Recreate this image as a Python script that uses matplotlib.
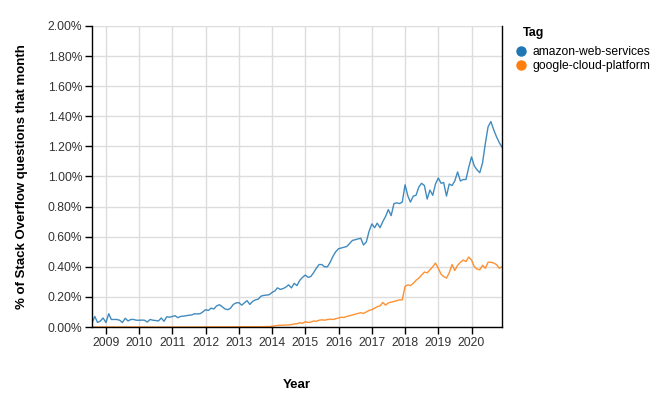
import pandas as pd
import matplotlib
matplotlib.use("Agg")
import matplotlib.pyplot as plt
import matplotlib.dates as mdates
from matplotlib.lines import Line2D
from matplotlib.ticker import FuncFormatter, MultipleLocator

plt.rcParams['font.family'] = ['Liberation Sans', 'DejaVu Sans']

# monthly share of questions, in percent, Aug 2008 .. Dec 2020
months = pd.date_range("2008-08-01", "2020-12-01", freq="MS")

aws = [
    0.027, 0.07, 0.03, 0.04, 0.06,                                            # 2008
    0.03, 0.088, 0.05, 0.05, 0.05, 0.045, 0.03, 0.058, 0.04, 0.05, 0.05, 0.045,  # 2009
    0.045, 0.046, 0.045, 0.033, 0.05, 0.045, 0.043, 0.04, 0.06, 0.038, 0.068, 0.065,  # 2010
    0.07, 0.075, 0.062, 0.07, 0.072, 0.075, 0.078, 0.08, 0.088, 0.087, 0.088, 0.1,  # 2011
    0.115, 0.11, 0.125, 0.12, 0.14, 0.148, 0.135, 0.12, 0.115, 0.125, 0.15, 0.16,  # 2012
    0.162, 0.145, 0.16, 0.175, 0.15, 0.17, 0.18, 0.185, 0.205, 0.21, 0.212, 0.215,  # 2013
    0.23, 0.24, 0.26, 0.25, 0.255, 0.265, 0.28, 0.26, 0.29, 0.275, 0.31, 0.33,  # 2014
    0.345, 0.33, 0.335, 0.36, 0.39, 0.415, 0.415, 0.4, 0.4, 0.43, 0.47, 0.5,  # 2015
    0.52, 0.525, 0.53, 0.535, 0.555, 0.575, 0.58, 0.585, 0.59, 0.545, 0.565, 0.635,  # 2016
    0.685, 0.66, 0.69, 0.66, 0.70, 0.735, 0.78, 0.74, 0.82, 0.825, 0.82, 0.83,  # 2017
    0.945, 0.87, 0.83, 0.87, 0.875, 0.93, 0.955, 0.94, 0.85, 0.91, 0.875, 0.95,  # 2018
    0.99, 0.955, 0.96, 0.87, 0.95, 0.94, 0.97, 1.03, 0.97, 0.98, 0.98, 1.06,  # 2019
    1.13, 1.07, 1.045, 1.025, 1.09, 1.22, 1.33, 1.365, 1.31, 1.265, 1.225, 1.195,  # 2020
]

gcp = [
    0.0, 0.0, 0.0, 0.0, 0.0,                                                  # 2008
    0.0, 0.0, 0.0, 0.0, 0.0, 0.0, 0.0, 0.0, 0.0, 0.0, 0.0, 0.0,               # 2009
    0.0, 0.0, 0.0, 0.0, 0.0, 0.0, 0.0, 0.0, 0.0, 0.0, 0.0, 0.0,               # 2010
    0.0, 0.0, 0.0, 0.0, 0.0, 0.0, 0.0, 0.0, 0.0, 0.0, 0.0, 0.0,               # 2011
    0.001, 0.001, 0.001, 0.001, 0.001, 0.001, 0.001, 0.001, 0.001, 0.001, 0.001, 0.001,  # 2012
    0.002, 0.002, 0.002, 0.002, 0.002, 0.002, 0.002, 0.002, 0.002, 0.002, 0.003, 0.003,  # 2013
    0.005, 0.008, 0.01, 0.012, 0.012, 0.013, 0.014, 0.016, 0.02, 0.022, 0.028, 0.025,  # 2014
    0.035, 0.03, 0.032, 0.04, 0.038, 0.045, 0.048, 0.045, 0.05, 0.052, 0.05, 0.055,  # 2015
    0.06, 0.065, 0.063, 0.07, 0.075, 0.08, 0.085, 0.09, 0.095, 0.09, 0.1, 0.11,  # 2016
    0.115, 0.125, 0.135, 0.14, 0.163, 0.145, 0.16, 0.165, 0.17, 0.175, 0.18, 0.18,  # 2017
    0.27, 0.28, 0.275, 0.29, 0.31, 0.325, 0.345, 0.365, 0.36, 0.38, 0.4, 0.425,  # 2018
    0.39, 0.35, 0.335, 0.325, 0.36, 0.415, 0.375, 0.41, 0.43, 0.445, 0.435, 0.465,  # 2019
    0.445, 0.4, 0.385, 0.38, 0.41, 0.39, 0.43, 0.43, 0.425, 0.415, 0.39, 0.4,  # 2020
]

tags = ["amazon-web-services", "google-cloud-platform"]
colors = ["#1f77b4", "#ff7f0e"]

W, H = 667, 399
fig = plt.figure(figsize=(W / 100, H / 100), dpi=100)
# plot area: x 92..502, y 26..327 px
ax = fig.add_axes([92 / W, 1 - 327 / H, 410 / W, 301 / H])

for vals, c in zip([aws, gcp], colors):
    ax.plot(months, vals, color=c, lw=1.0, alpha=0.85)

ax.set_xlim(months[0], months[-1])
ax.set_ylim(0, 2.0)
ax.yaxis.set_major_locator(MultipleLocator(0.2))
ax.yaxis.set_major_formatter(FuncFormatter(lambda v, p: "%.2f%%" % v))
ax.xaxis.set_major_locator(mdates.YearLocator())
ax.xaxis.set_major_formatter(mdates.DateFormatter("%Y"))

ax.grid(True, color="#dddddd", lw=1)
ax.set_axisbelow(True)
for s in ["left", "bottom", "right"]:
    ax.spines[s].set_color("black")
    ax.spines[s].set_linewidth(1)
ax.spines["top"].set_visible(False)
ax.tick_params(length=5, width=1, labelsize=8.7, colors="black", labelcolor="#333333", pad=2)

ax.set_ylabel("% of Stack Overflow questions that month", fontsize=9.5,
              fontweight="bold", labelpad=14)
ax.set_xlabel("Year", fontsize=9.5, fontweight="bold", labelpad=22)

# legend
fig.text(523 / W, 1 - 33 / H, "Tag", fontsize=9, fontweight="bold",
         ha="left", va="center")
handles = [Line2D([], [], marker="o", ls="", color=c, markersize=6.5) for c in colors]
leg = fig.legend(handles, tags, loc="upper left",
                 bbox_to_anchor=(516 / W, 1 - 46 / H), frameon=False, fontsize=8.7,
                 handletextpad=0.6, labelspacing=0.2, borderaxespad=0, borderpad=0,
                 handlelength=0.8)

fig.savefig("out.png", dpi=100)
